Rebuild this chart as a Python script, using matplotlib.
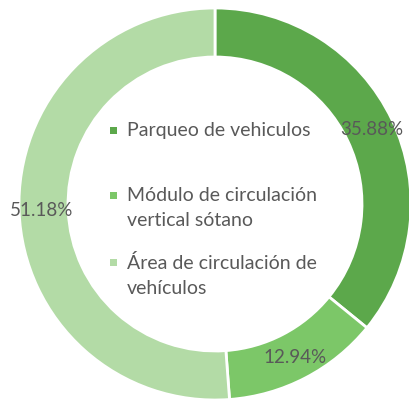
import matplotlib
matplotlib.use("Agg")
import matplotlib.pyplot as plt
from matplotlib.patches import Rectangle

categories = ["Parqueo de vehiculos",
              "Módulo de circulación\nvertical sótano",
              "Área de circulación de\nvehículos"]
values = [35.88, 12.94, 51.18]
colors = ["#5ca84b", "#7cc768", "#b3dba6"]

W, H = 409, 403
fig = plt.figure(figsize=(W / 100, H / 100), dpi=100)
ax = fig.add_axes([0, 0, 1, 1])

cx, cy, R = 215, 199, 196
wedges, texts, autotexts = ax.pie(
    values, colors=colors, startangle=90, counterclock=False,
    center=(cx, cy), radius=R, autopct="%.2f%%", pctdistance=0.885,
    wedgeprops=dict(width=49, edgecolor="white", linewidth=2),
    textprops=dict(color="#595959", fontsize=13.5, family="Lato"),
    frame=True)
ax.set_xlim(0, W)
ax.set_ylim(0, H)
ax.axis("off")

# legend inside the hole
marker_y = [273, 208, 141]
text_top = [281, 216, 149]
for label, col, ym, yt in zip(categories, colors, marker_y, text_top):
    ax.add_patch(Rectangle((110, ym - 3.5), 7, 7, facecolor=col, edgecolor="none"))
    ax.text(127, yt, label, color="#595959", fontsize=14, family="Lato",
            va="top", ha="left", linespacing=1.55)

fig.savefig("out.png", dpi=100)
